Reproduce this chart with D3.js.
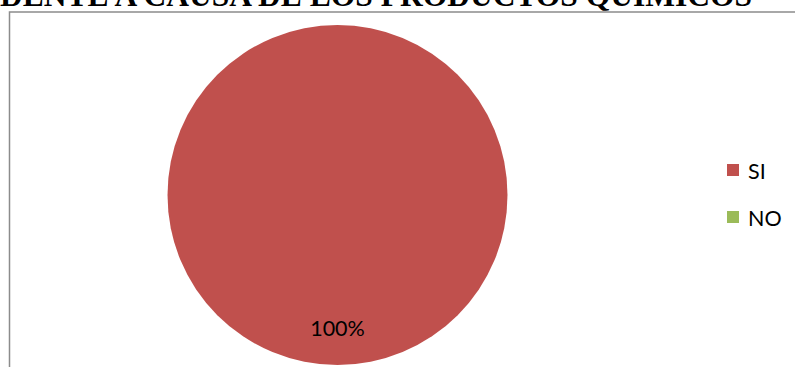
<!DOCTYPE html>
<html>
<head>
<meta charset="utf-8">
<script src="https://cdn.jsdelivr.net/npm/d3@7/dist/d3.min.js"></script>
<style>
  html, body { margin: 0; padding: 0; background: #fff; overflow: hidden; }
  svg { display: block; }
</style>
</head>
<body>
<svg id="chart" width="795" height="367"></svg>
<script>
// Survey answers and their shares
const categories = ["SI", "NO"];
const values = [100, 0];
const colors = ["#C0504D", "#9BBB59"];
const titleText = "ACCIDENTE A CAUSA DE LOS PRODUCTOS QUIMICOS";

const svg = d3.select("#chart");
const W = 795, H = 367;

// Chart frame
svg.append("rect")
  .attr("x", 9.5).attr("y", 12)
  .attr("width", W + 20).attr("height", H + 20)
  .attr("fill", "#fff")
  .attr("stroke", "#8c8c8c")
  .attr("stroke-width", 1.5);

// Title, running past the top edge of the page
svg.append("text")
  .attr("x", 752).attr("y", 6)
  .attr("text-anchor", "end")
  .attr("font-family", "Liberation Serif, Times New Roman, serif")
  .attr("font-weight", "bold")
  .attr("font-size", 31.5)
  .attr("fill", "#000")
  .text(titleText);

// Pie
const cx = 337.5, cy = 195, r = 170;
const pie = d3.pie().sort(null).value(d => d.value);
const arcs = pie(categories.map((c, i) => ({ cat: c, value: values[i], color: colors[i] })));
const arc = d3.arc().innerRadius(0).outerRadius(r);

const g = svg.append("g").attr("transform", `translate(${cx},${cy})`);
g.selectAll("path")
  .data(arcs.filter(a => a.data.value > 0))
  .join("path")
  .attr("d", arc)
  .attr("fill", d => d.data.color);

// Percentage labels
const total = d3.sum(values);
const fmt = d3.format(".0%");
arcs.filter(a => a.data.value > 0).forEach(a => {
  const mid = (a.startAngle + a.endAngle) / 2;
  const full = a.endAngle - a.startAngle >= 2 * Math.PI - 1e-6;
  // A full circle places its label low inside the slice
  const lx = full ? 0 : Math.sin(mid) * r * 0.6;
  const ly = full ? r * 0.78 : -Math.cos(mid) * r * 0.6;
  g.append("text")
    .attr("x", lx).attr("y", ly)
    .attr("text-anchor", "middle")
    .attr("dominant-baseline", "central")
    .attr("font-family", "Lato, Carlito, Calibri, sans-serif")
    .attr("font-size", 21.5)
    .attr("fill", "#000")
    .text(fmt(a.data.value / total));
});

// Legend
const legend = svg.append("g").attr("transform", "translate(727,164)");
const item = legend.selectAll("g")
  .data(categories)
  .join("g")
  .attr("transform", (d, i) => `translate(0,${i * 47})`);
item.append("rect")
  .attr("width", 12).attr("height", 12)
  .attr("fill", (d, i) => colors[i]);
item.append("text")
  .attr("x", 21).attr("y", 6.5)
  .attr("dominant-baseline", "central")
  .attr("font-family", "Lato, Carlito, Calibri, sans-serif")
  .attr("font-size", 21.5)
  .attr("fill", "#000")
  .text(d => d);
</script>
</body>
</html>
